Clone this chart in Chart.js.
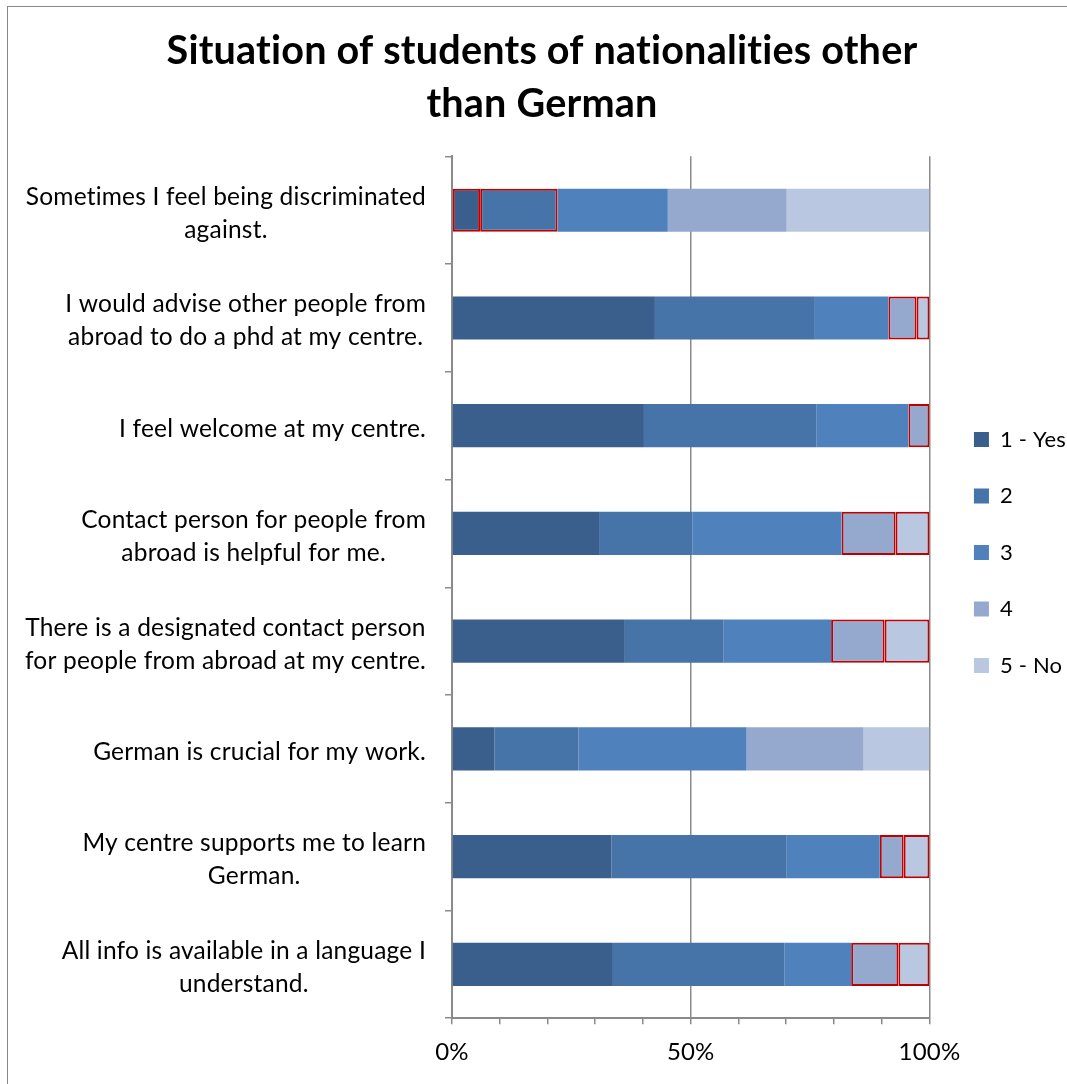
<!DOCTYPE html>
<html><head><meta charset="utf-8">
<script src="https://cdn.jsdelivr.net/npm/chart.js@4.4.1/dist/chart.umd.min.js"></script>
<style>
html,body{margin:0;padding:0;background:#fff;overflow:hidden}
#wrap{position:absolute;left:7px;top:6px;width:1075px;height:1090px;border-left:1px solid #878787;border-top:1px solid #878787;}
canvas{display:block}
</style></head><body>
<div id="wrap"><canvas id="c"></canvas></div>
<script>
const categories = [
  ['Sometimes I feel being discriminated', 'against.'],
  ['I would advise other people from', 'abroad to do a phd at my centre.'],
  ['I feel welcome at my centre.'],
  ['Contact person for people from', 'abroad is helpful for me.'],
  ['There is a designated contact person', 'for people from abroad at my centre.'],
  ['German is crucial for my work.'],
  ['My centre supports me to learn', 'German.'],
  ['All info is available in a language I', 'understand.']
];
const seriesNames = ['1 - Yes', '2', '3', '4', '5 - No'];
const answer1 = [5.9, 42.5, 40.2, 30.8, 36.2, 8.9, 33.4, 33.7];
const answer2 = [16.2, 33.5, 36.1, 19.6, 20.7, 17.6, 36.6, 35.9];
const answer3 = [23.1, 15.4, 19.3, 31.2, 22.5, 35.2, 19.6, 14.0];
const answer4 = [24.9, 5.9, 4.4, 11.3, 11.2, 24.5, 5.0, 9.9];
const answer5 = [29.9, 2.7, 0, 7.1, 9.4, 13.8, 5.4, 6.5];
const xTickLabels = ['0%', '50%', '100%'];
// cells outlined in red in the original (series index -> category indices)
const highlighted = [[0], [0], [], [1, 2, 3, 4, 6, 7], [1, 3, 4, 6, 7]];

const seriesValues = [answer1, answer2, answer3, answer4, answer5];
const colors = ['#3B5F8D', '#4673A8', '#4F81BD', '#95A9CF', '#BAC7E0'];
const FONT = 'Lato';
const LABEL_SIZE = 24.5;
const LABEL_FONT = LABEL_SIZE + 'px ' + FONT;

const noLigatures = {
  id: 'noLigatures',
  beforeUpdate(chart) { chart.ctx.letterSpacing = '0.2px'; },
  beforeDraw(chart) { chart.ctx.letterSpacing = '0.2px'; }
};

const centeredLabels = {
  id: 'centeredLabels',
  afterDraw(chart) {
    const sc = chart.scales.y;
    const ctx = chart.ctx;
    ctx.save();
    ctx.font = LABEL_FONT;
    ctx.fillStyle = '#000';
    ctx.textAlign = 'center';
    ctx.textBaseline = 'middle';
    const right = sc.right - sc.options.grid.tickLength - sc.options.ticks.padding;
    const lh = 33;
    sc.ticks.forEach((t, i) => {
      const lines = categories[i];
      const w = Math.max(...lines.map(l => ctx.measureText(l).width));
      const cx = right - w / 2;
      const y = sc.getPixelForTick(i) + 3;
      lines.forEach((l, j) => ctx.fillText(l, cx, y + (j - (lines.length - 1) / 2) * lh));
    });
    ctx.restore();
  }
};

new Chart(document.getElementById('c'), {
  type: 'bar',
  data: {
    labels: categories,
    datasets: seriesValues.map((vals, si) => ({
      label: seriesNames[si],
      data: vals,
      backgroundColor: colors[si],
      borderColor: ctx => highlighted[si].includes(ctx.dataIndex) ? '#C00000' : 'rgba(0,0,0,0)',
      borderWidth: ctx => highlighted[si].includes(ctx.dataIndex) ? 2 : 0,
      borderSkipped: false,
      barPercentage: 0.4,
      categoryPercentage: 1.0
    }))
  },
  options: {
    indexAxis: 'y',
    responsive: true,
    maintainAspectRatio: false,
    animation: false,
    devicePixelRatio: 1,
    layout: { padding: { left: 0, right: 7, top: 0, bottom: 16 } },
    plugins: {
      tooltip: { enabled: false },
      title: {
        display: true,
        text: ['Situation of students of nationalities other', 'than German'],
        color: '#000',
        font: { family: FONT, size: 39.6, weight: 'bold', lineHeight: 1.33 },
        padding: { top: 18, bottom: 26 }
      },
      legend: {
        position: 'right',
        title: {
          display: true,
          text: ' ',
          font: { family: FONT, size: 10, lineHeight: 1.2 },
          padding: { top: 0, bottom: 5 }
        },
        labels: {
          boxWidth: 15, boxHeight: 15,
          color: '#000',
          font: { family: FONT, size: 22 },
          padding: 34.5,
          generateLabels: chart => seriesNames.map((n, i) => ({
            text: n, fillStyle: colors[i], strokeStyle: colors[i], lineWidth: 0,
            fontColor: '#000', hidden: false, datasetIndex: i
          }))
        }
      }
    },
    scales: {
      x: {
        stacked: true,
        min: 0, max: 100,
        ticks: {
          stepSize: 10, autoSkip: false, maxRotation: 0,
          color: '#000',
          font: { family: FONT, size: 24 },
          padding: 14,
          callback: v => (v % 50 === 0 ? xTickLabels[v / 50] : '')
        },
        grid: {
          color: c => (c.tick && c.tick.value > 0 && c.tick.value % 50 === 0) ? '#8A8A8A' : 'rgba(0,0,0,0)',
          tickColor: '#8A8A8A',
          tickLength: 6,
          lineWidth: 1.5
        },
        border: { color: '#8A8A8A', width: 2 }
      },
      y: {
        stacked: true,
        afterFit: s => { s.width = 444; },
        ticks: {
          color: 'rgba(0,0,0,0)',
          font: { family: FONT, size: LABEL_SIZE, lineHeight: 1.35 },
          padding: 19
        },
        grid: {
          offset: true,
          drawOnChartArea: false,
          tickColor: '#8A8A8A',
          tickLength: 7,
          lineWidth: 1.5
        },
        border: { color: '#8A8A8A', width: 2 }
      },
      gap: {
        type: 'category',
        position: 'right',
        labels: categories,
        afterFit: s => { s.width = 10; },
        ticks: { display: false },
        grid: { display: false, drawTicks: false },
        border: { display: false }
      }
    }
  },
  plugins: [noLigatures, centeredLabels]
});
</script>
</body></html>
